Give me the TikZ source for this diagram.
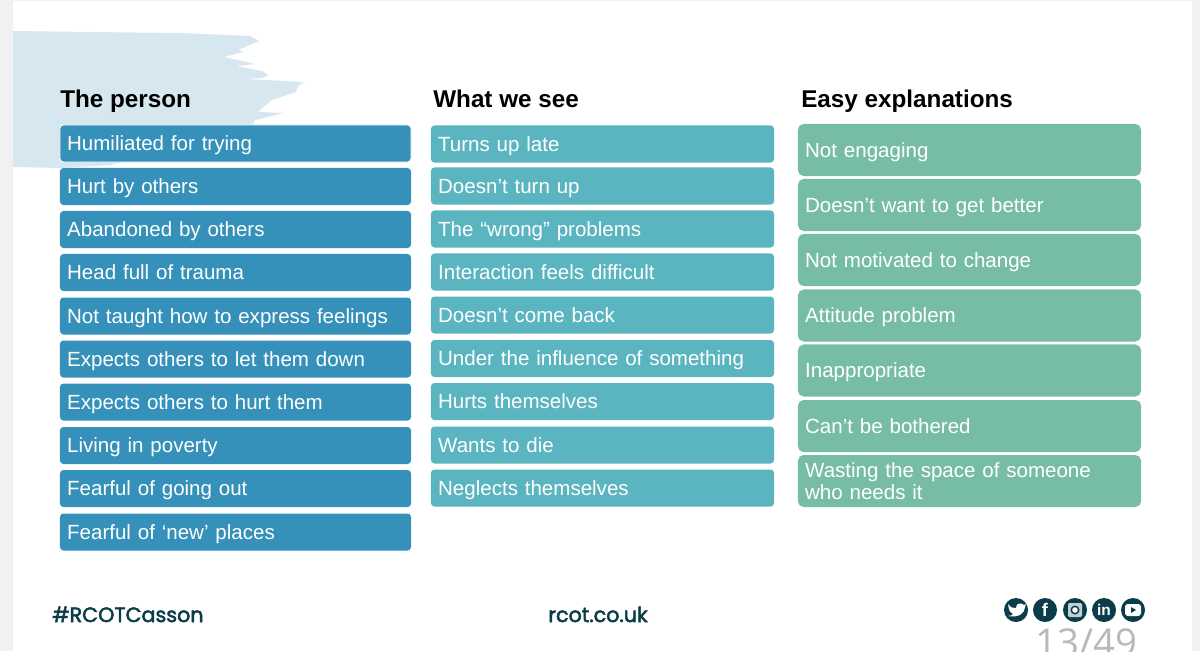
\documentclass[tikz,border=0pt]{standalone}
\usepackage{fontspec}
\setmainfont{Liberation Sans}
\newfontfamily\footfont[FakeBold=2.4]{Poppins}
\newfontfamily\pagefont{Open Sans}
\definecolor{personblue}{HTML}{3591BA}
\definecolor{seeteal}{HTML}{5AB5C0}
\definecolor{easygreen}{HTML}{77BDA6}
\definecolor{brushblue}{HTML}{D6E7EF}
\definecolor{footdark}{HTML}{0B3C49}
\definecolor{sidegrey}{HTML}{F1F1F1}
\definecolor{pagegrey}{HTML}{B9B9B9}

\begin{document}
\begin{tikzpicture}[x=0.025cm,y=-0.025cm]
      \tikzstyle{heading}=[anchor=base west,inner sep=0pt,font=\fontsize{17.25}{20}\bfseries\selectfont,text=black]
      \tikzstyle{item}=[rounded corners=2.5pt,text=white,align=left,inner ysep=0pt,inner xsep=0.18cm,
                        font=\fontsize{14.6}{15.6}\selectfont,minimum height=0.925cm,text height=13.6pt,text depth=3pt]
      \tikzstyle{person}=[item,fill=personblue,text width=8.415cm,minimum width=8.775cm]
      \tikzstyle{see}=[item,fill=seeteal,text width=8.215cm,minimum width=8.575cm]
      \tikzstyle{easy}=[item,fill=easygreen,text width=8.215cm,minimum width=8.575cm,minimum height=1.3cm,rounded corners=4pt]
      \tikzstyle{foot}=[inner sep=0pt,text=footdark,font=\fontsize{14.7}{18}\footfont]
      \tikzstyle{icon}=[circle,fill=footdark,minimum size=0.6cm,inner sep=0pt,text=white]
      \clip (0,0) rectangle (1200,651);
      \fill[white] (0,0) rectangle (1200,651);
      \fill[sidegrey] (0,0) rectangle (13,651);
      \fill[sidegrey] (1192,0) rectangle (1200,651);
      \fill[sidegrey] (0,0) rectangle (1200,1);
      \fill[brushblue] (13,31) -- (90,32) -- (180,33) -- (250,36) -- (259,41) -- (250,45) -- (238,50)
            -- (243,52) -- (224,57) -- (255,64) -- (236,66) -- (262,71) -- (268,75) -- (262,78)
            -- (245,79) -- (304,82) -- (298,86) -- (296,92) -- (272,100) -- (262,108) -- (258,112)
            -- (284,113) -- (255,120) -- (250,130) -- (110,165) -- (60,168) -- (13,167) -- cycle;
      \node[heading] (hp) at (60,107) {The person};
      \node[heading] (hs) at (433,107) {What we see};
      \node[heading] (he) at (801,107) {Easy explanations};
      \node[person,draw=white,line width=0.6pt] (pa) at (235.5,143.5) {Humiliated for trying};
      \node[person] (pb) at (235.5,186.5) {Hurt by others};
      \node[person] (pc) at (235.5,229.5) {Abandoned by others};
      \node[person] (pd) at (235.5,272.5) {Head full of trauma};
      \node[person] (pe) at (235.5,316) {Not taught how to express feelings};
      \node[person] (pf) at (235.5,359) {Expects others to let them down};
      \node[person] (pg) at (235.5,402) {Expects others to hurt them};
      \node[person] (ph) at (235.5,445.5) {Living in poverty};
      \node[person] (pi) at (235.5,488.5) {Fearful of going out};
      \node[person] (pj) at (235.5,532) {Fearful of ‘new’ places};
      \node[see] (sa) at (602.5,144) {Turns up late};
      \node[see] (sb) at (602.5,186) {Doesn’t turn up};
      \node[see] (sc) at (602.5,229) {The “wrong” problems};
      \node[see] (sd) at (602.5,272) {Interaction feels difficult};
      \node[see] (se) at (602.5,315) {Doesn’t come back};
      \node[see] (sf) at (602.5,358.5) {Under the influence of something};
      \node[see] (sg) at (602.5,401.5) {Hurts themselves};
      \node[see] (sh) at (602.5,445) {Wants to die};
      \node[see] (si) at (602.5,488) {Neglects themselves};
      \node[easy] (ea) at (969.5,150) {Not engaging};
      \node[easy] (eb) at (969.5,205) {Doesn’t want to get better};
      \node[easy] (ec) at (969.5,260) {Not motivated to change};
      \node[easy] (ed) at (969.5,315.5) {Attitude problem};
      \node[easy] (ee) at (969.5,370.5) {Inappropriate};
      \node[easy] (ef) at (969.5,426) {Can’t be bothered};
      \node[easy,text depth=18.6pt] (eg) at (969.5,481) {Wasting the space of someone\\who needs it};
      \node[foot,anchor=base west] (tag) at (52,622) {\#RCOTCasson};
      \node[foot,anchor=base] (web) at (598,622) {rcot.co.uk};
      \node[icon] (tw) at (1016,610) {};
      \node[icon,font=\fontsize{13}{13}\bfseries\selectfont] (fb) at (1045,610) {f};
      \node[icon] (ig) at (1075,610) {};
      \node[icon,font=\fontsize{11}{11}\bfseries\selectfont] (li) at (1104,610) {in};
      \node[icon] (yt) at (1133,610) {};
      \fill[white] (1008,604) .. controls (1011,608) and (1013,608) .. (1016,608)
            .. controls (1016,603) and (1021,602) .. (1024,605) -- (1026,604) -- (1025,607)
            .. controls (1025,613) and (1019,618) .. (1008,616)
            .. controls (1011,616) and (1012,615) .. (1013,614)
            .. controls (1010,613) and (1009,611) .. (1008,604) -- cycle;
      \fill[white!75!footdark,rounded corners=1pt] (1068,603) rectangle (1082,617);
      \fill[footdark] (ig) circle (4.5);
      \fill[white] (ig) circle (2.8);
      \fill[white,rounded corners=2pt] (1125,604) rectangle (1141,616);
      \fill[footdark] (1131,607) -- (1136,610) -- (1131,613) -- cycle;
      \node[anchor=base east,inner sep=0pt,text=pagegrey,font=\fontsize{27.3}{30}\pagefont] (page) at (1138,656) {13/49};
\end{tikzpicture}
\end{document}
